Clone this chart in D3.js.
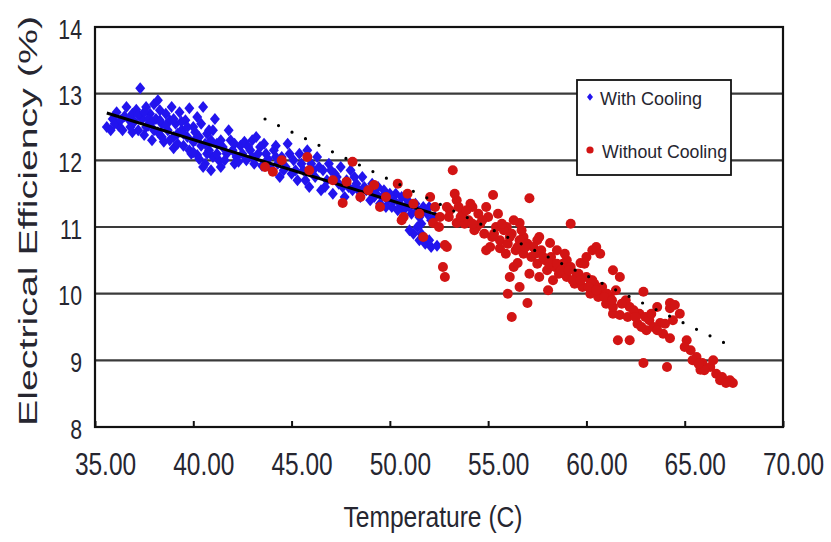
<!DOCTYPE html>
<html>
<head>
<meta charset="utf-8">
<script src="https://cdn.jsdelivr.net/npm/d3@7"></script>
<style>
  html, body { margin: 0; padding: 0; background: #fff; }
  svg { display: block; font-family: "Liberation Sans", Arial, sans-serif; }
</style>
</head>
<body>
<svg width="831" height="542"></svg>
<script>
// data: [temperature C, efficiency %]
const withCooling = [
  [35.6,12.5],[35.9,12.62],[36.1,12.72],[36.2,12.52],[36.4,12.45],[36.5,12.66],[36.6,12.8],[36.8,12.5],[36.9,12.7],[37.0,12.58],
  [37.1,12.76],[37.2,12.45],[37.3,13.08],[37.4,12.62],[37.5,12.38],[37.6,12.8],[37.7,12.52],[37.8,12.7],[37.9,12.3],[38.0,12.84],
  [38.1,12.62],[38.2,12.42],[38.3,12.75],[38.4,12.55],[38.5,12.28],[38.6,12.7],[38.7,12.45],[38.8,12.6],[38.9,12.8],[39.0,12.35],
  [39.1,12.55],[39.0,12.18],[38.2,12.9],[37.7,12.62],[39.3,12.72],[39.4,12.45],[39.5,12.22],[39.6,12.6],[39.7,12.35],[39.8,12.78],
  [39.9,12.1],[40.0,12.5],[40.1,12.3],[40.2,12.65],[40.3,12.02],[40.4,12.22],[40.5,12.8],[40.6,11.95],[40.7,12.4],[40.8,12.15],
  [40.9,11.85],[41.0,12.05],[41.1,12.62],[41.2,12.25],[40.5,11.9],[40.8,12.45],[41.3,12.0],[40.2,12.08],[39.2,12.4],[40.0,12.28],
  [41.5,12.2],[41.7,12.1],[41.8,12.45],[42.0,12.15],[42.2,12.05],[42.4,12.22],[42.5,12.1],[42.7,12.0],[42.9,12.15],[43.0,12.3],
  [43.1,11.95],[43.3,12.1],[43.5,11.92],[43.6,12.25],[43.8,12.02],[44.0,11.85],[44.1,12.15],[44.3,11.95],[42.1,11.95],[43.2,12.35],
  [41.4,11.9],[42.6,12.28],[44.2,12.22],[44.4,11.75],[44.5,12.05],[44.7,11.9],[44.8,12.25],[45.0,11.8],[45.1,12.0],[45.3,11.7],
  [45.4,12.1],[45.6,11.85],[45.8,12.15],[45.9,11.6],[46.0,11.95],[46.2,11.75],[46.3,12.05],[46.5,11.55],[46.6,11.85],[46.8,11.7],
  [46.9,11.95],[47.1,11.5],[47.2,11.8],[47.4,11.65],[47.5,11.9],[47.7,11.45],[47.8,11.7],[48.0,11.85],[48.1,11.55],[48.3,11.65],
  [48.5,11.45],[48.6,11.75],[48.8,11.55],[49.0,11.4],[49.1,11.65],[49.3,11.5],[49.5,11.35],[49.7,11.55],[49.9,11.4],[50.1,11.3],
  [50.3,11.5],[50.5,11.35],[50.7,11.25],[50.9,11.4],[51.1,11.2],[51.3,11.35],[51.5,11.15],[51.7,11.3],[51.9,11.2],[52.1,11.1],
  [51.2,10.9],[51.5,10.8],[51.8,10.75],[52.1,10.7],[52.4,10.72],[51.0,10.95],
  [35.8,12.45],[36.0,12.55],[36.3,12.6],[36.7,12.62],[36.9,12.42],[37.2,12.68],[37.5,12.72],[37.6,12.5],[37.9,12.58],[38.0,12.45],
  [38.3,12.6],[38.4,12.35],[38.6,12.52],[38.8,12.3],[39.0,12.62],[39.2,12.25],[39.4,12.58],[39.5,12.4],[39.7,12.5],[39.8,12.15],
  [40.0,12.12],[40.1,12.42],[40.3,12.35],[40.4,12.55],[40.6,12.25],[40.7,12.1],[40.9,12.3],[41.0,12.45],[41.2,12.1],[41.4,12.3],
  [41.6,12.0],[41.9,12.3],[42.1,12.25],[42.3,11.98],[42.8,12.2],[43.0,12.05],[43.4,12.2],[43.7,12.1],[43.9,11.9],[44.2,12.05],
  [44.6,11.85],[44.9,12.1],[45.2,11.85],[45.5,11.95],[45.7,11.7],[46.1,11.85],[46.4,11.9],[46.7,11.6],[47.0,11.85],[47.3,11.75],
  [47.6,11.6],[47.9,11.6],[48.2,11.75],[48.4,11.55],[48.7,11.6],[49.0,11.55],[49.2,11.45],[49.4,11.6],[49.6,11.45],[49.8,11.3],
  [50.0,11.5],[50.2,11.4],[50.4,11.25],[50.6,11.45],[50.8,11.3],[51.0,11.3],[51.4,11.25],[51.6,11.05],[52.0,11.3],[52.3,11.15],
  [51.6,10.9],[52.0,10.8],[51.4,11.0]
];

const withoutCooling = [
  [43.65,11.9],[44.05,11.83],[44.5,12.0],[45.8,12.05],[45.9,11.85],[48.1,11.98],[47.1,11.7],[47.8,11.68],[47.6,11.36],[48.5,11.45],
  [49.2,11.63],[49.5,11.3],[50.4,11.65],[50.7,11.15],[50.9,11.5],[51.5,11.2],[52.05,11.45],[52.2,11.06],[52.55,11.15],[53.2,11.85],
  [53.4,11.4],[51.7,10.85],[52.9,10.7],[50.6,11.1],[52.8,10.73],[52.7,10.4],[52.8,10.25],[48.9,11.55],[49.8,11.45],[51.2,11.35],
  [53.3,11.5],[53.05,11.25],[53.7,11.2],[53.4,11.06],[54.2,11.3],[55.25,11.48],[54.4,11.0],[55.5,11.2],[54.9,10.65],[55.6,10.68],
  [57.1,11.43],[55.95,11.0],[56.6,11.06],[56.8,10.85],[57.5,10.8],[56.3,10.4],[56.5,10.46],[56.1,10.25],[56.6,10.1],[56.0,10.0],
  [57.0,9.86],[58.05,10.05],[57.6,10.25],[58.15,10.76],[59.2,11.05],[58.5,10.65],[59.0,10.5],[59.7,10.46],[60.3,10.65],[59.5,10.3],
  [60.2,10.2],[60.7,10.05],[61.35,10.35],[61.2,9.95],[56.2,9.65],[61.35,9.7],
  [52.3,11.3],[52.5,11.0],[53.0,11.15],[53.5,11.3],[53.8,11.05],[54.1,11.35],[54.5,11.2],[54.9,11.3],
  [54.0,11.1],[54.3,10.95],[54.6,11.05],[54.8,10.9],[55.0,11.15],[55.2,10.85],[55.4,11.0],[55.6,10.8],[55.8,10.95],[56.0,10.75],
  [56.2,10.9],[56.4,10.65],[56.6,10.8],[56.8,10.6],[57.0,10.75],[57.2,10.55],[57.3,10.7],[57.5,10.45],[57.7,10.65],[57.9,10.5],
  [58.0,10.35],[58.2,10.55],[58.4,10.4],[58.6,10.3],[58.8,10.45],[59.0,10.25],[59.2,10.4],[59.4,10.15],[59.6,10.3],[59.8,10.1],
  [60.0,10.25],[60.2,10.0],[60.4,10.15],[60.6,9.95],[60.8,10.1],[61.0,9.85],[55.1,10.7],[55.9,10.6],[56.7,10.95],[57.6,10.85],
  [58.9,10.6],[59.9,10.45],[56.3,11.1],[57.1,10.3],[58.3,10.2],
  [60.0,10.55],[60.5,10.7],[60.7,10.6],[61.7,10.25],[60.3,10.2],[61.05,10.0],[61.35,9.8],[61.7,9.68],[62.2,9.8],[62.9,10.03],
  [62.7,9.7],[63.2,9.6],[63.05,9.45],[63.75,9.56],[64.25,9.78],[64.4,9.6],[63.9,9.4],[64.25,9.33],[61.6,9.3],[62.2,9.3],
  [62.9,8.96],[64.1,8.9],[65.1,9.3],[65.3,9.15],[65.6,9.05],[65.9,8.96],[65.8,8.86],[66.3,8.9],[66.6,8.8],[66.8,8.7],
  [67.3,8.7],[67.45,8.66],[66.45,9.0],[64.75,9.7],[63.6,9.8],[64.25,9.86],[64.5,9.83],
  [62.0,9.9],[62.4,9.75],[63.0,9.65],[63.4,9.5],[62.6,9.55],
  [53.6,11.15],[54.2,11.05],[54.7,11.1],[55.3,10.9],[55.7,11.05],[56.1,10.85],[56.5,10.7],[56.9,10.7],[57.4,10.6],[57.8,10.55],
  [58.1,10.45],[58.5,10.45],[58.7,10.35],[59.1,10.35],[59.3,10.2],[59.7,10.2],[60.1,10.1],[60.5,10.05],[60.9,9.95],[61.3,9.9],
  [61.5,10.05],[61.8,9.85],[62.1,9.65],[62.5,9.65],[62.8,9.5],[63.3,9.7],[63.6,9.45],[64.0,9.55],[65.0,9.2],[65.4,9.0],
  [66.0,8.85],[66.9,8.75],[67.1,8.66],[65.7,8.95],[52.9,11.3],[53.9,11.25]
];

// trend lines (end points)
const trendCooling = [[35.6,12.71],[52.55,11.17]];
const trendNoCooling = [[43.65,12.62],[67.45,9.2]];

const xTicks = [35,40,45,50,55,60,65,70];
const yTicks = [8,9,10,11,12,13,14];
const xTitle = "Temperature (C)";
const yTitle = "Electrical Efficiency (%)";
const legendNames = ["With Cooling","Without Cooling"];

const blue = "#2214ee", red = "#d21414", ink = "#262630";

const svg = d3.select("svg");
const x = d3.scaleLinear().domain([35,70]).range([95,783]);
const y = d3.scaleLinear().domain([8,14]).range([427,27]);

// squeeze text horizontally, like the narrow font in the picture
function squeeze(sel, k){
  sel.each(function(){
    const w = this.getComputedTextLength();
    d3.select(this).attr("textLength", w*k).attr("lengthAdjust","spacingAndGlyphs");
  });
}

// grid lines
svg.append("g").selectAll("line")
  .data(yTicks.slice(1,-1))
  .join("line")
  .attr("x1", x(35)).attr("x2", x(70))
  .attr("y1", d=>y(d)).attr("y2", d=>y(d))
  .attr("stroke", "#3a3a3a").attr("stroke-width", 2.2);

// markers
const diamond = { draw(ctx, size){ const h = Math.sqrt(size)/2;
  ctx.moveTo(0,-h*1.15); ctx.lineTo(h*0.95,0); ctx.lineTo(0,h*1.15); ctx.lineTo(-h*0.95,0); ctx.closePath(); } };

svg.append("g").selectAll("path")
  .data(withCooling)
  .join("path")
  .attr("d", d3.symbol(diamond, 110))
  .attr("transform", d=>`translate(${x(d[0])},${y(d[1])})`)
  .attr("fill", blue);

const line = d3.line().x(d=>x(d[0])).y(d=>y(d[1]));

svg.append("path")
  .datum(trendCooling)
  .attr("d", line)
  .attr("stroke", "#000").attr("stroke-width", 3).attr("fill", "none");

svg.append("g").selectAll("circle")
  .data(withoutCooling)
  .join("circle")
  .attr("cx", d=>x(d[0])).attr("cy", d=>y(d[1]))
  .attr("r", 5)
  .attr("fill", red);

svg.append("path")
  .datum(trendNoCooling)
  .attr("d", line)
  .attr("stroke", "#000").attr("stroke-width", 3.2).attr("fill", "none")
  .attr("stroke-linecap", "round")
  .attr("stroke-dasharray", "0 15");

// x axis with small inward ticks
const xk = 0.79;
const xAxis = svg.append("g")
  .attr("transform", `translate(0,${y(8)})`)
  .call(d3.axisBottom(x).tickValues(xTicks).tickFormat(d3.format(".2f")).tickSize(-6));
xAxis.select(".domain").remove();
xAxis.selectAll("line").attr("stroke", "#111").attr("stroke-width", 2);
xAxis.selectAll("text")
  .attr("font-size", 31).attr("fill", ink)
  .attr("y", 48).attr("dy", 0).attr("x", 10/xk)
  .attr("transform", `scale(${xk},1)`);

const yAxis = svg.append("g")
  .attr("transform", `translate(${x(35)},0)`)
  .call(d3.axisLeft(y).tickValues(yTicks).tickFormat(d3.format("d")).tickSize(0).tickPadding(13));
yAxis.select(".domain").remove();
yAxis.selectAll("text")
  .attr("font-size", 28).attr("fill", ink)
  .attr("dy", "0.4em")
  .call(squeeze, 0.76);

// plot frame
svg.append("rect")
  .attr("x", x(35)).attr("y", y(14))
  .attr("width", x(70)-x(35)).attr("height", y(8)-y(14))
  .attr("fill", "none").attr("stroke", "#111").attr("stroke-width", 2.2);

// titles
svg.append("text")
  .attr("x", 433).attr("y", 527)
  .attr("text-anchor", "middle")
  .attr("font-size", 30).attr("fill", ink)
  .text(xTitle)
  .call(squeeze, 0.82);

svg.append("g")
  .attr("transform", "translate(37,221) scale(0.7,1) rotate(-90)")
  .append("text")
  .attr("text-anchor", "middle")
  .attr("font-size", 38).attr("fill", ink)
  .attr("textLength", 410).attr("lengthAdjust", "spacingAndGlyphs")
  .text(yTitle);

// legend
const lg = svg.append("g");
lg.append("rect")
  .attr("x", 577).attr("y", 80).attr("width", 154).attr("height", 95)
  .attr("fill", "#fff").attr("stroke", "#111").attr("stroke-width", 1.8);
lg.append("path")
  .attr("d", d3.symbol(diamond, 40))
  .attr("transform", "translate(590,97)")
  .attr("fill", blue);
lg.append("circle")
  .attr("cx", 590).attr("cy", 150).attr("r", 3.6)
  .attr("fill", red);
lg.selectAll("text.name")
  .data(legendNames)
  .join("text")
  .attr("class", "name")
  .attr("x", (d,i)=> i ? 602 : 600)
  .attr("y", (d,i)=> i ? 158 : 105)
  .attr("font-size", 18).attr("fill", ink)
  .text(d=>d)
  .each(function(d,i){
    d3.select(this).attr("textLength", i ? 125 : 102).attr("lengthAdjust", "spacingAndGlyphs");
  });
</script>
</body>
</html>
